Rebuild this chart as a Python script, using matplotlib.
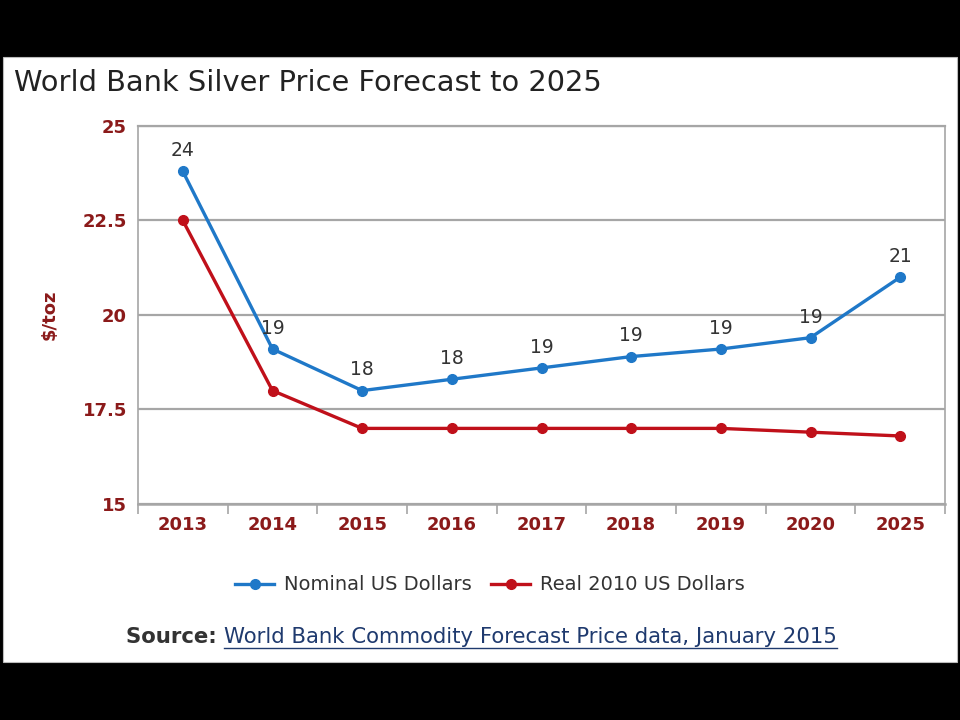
import matplotlib
matplotlib.use("Agg")
import matplotlib.pyplot as plt
from matplotlib.patches import Rectangle
from matplotlib.lines import Line2D
from matplotlib.ticker import FixedLocator

years = ["2013", "2014", "2015", "2016", "2017", "2018", "2019", "2020", "2025"]
nominal = [23.8, 19.1, 18.0, 18.3, 18.6, 18.9, 19.1, 19.4, 21.0]
real = [22.5, 18.0, 17.0, 17.0, 17.0, 17.0, 17.0, 16.9, 16.8]
nominal_labels = ["24", "19", "18", "18", "19", "19", "19", "19", "21"]
yticks = [15, 17.5, 20, 22.5, 25]
ytick_labels = ["15", "17.5", "20", "22.5", "25"]

blue = "#1f78c8"
red = "#c0101a"
dark_red = "#8b1a1a"
grid_grey = "#a6a6a6"

fig = plt.figure(figsize=(9.6, 7.2), dpi=100, facecolor="black")
fig.patches.append(Rectangle((3 / 960, 58 / 720), 954 / 960, 605 / 720,
                             transform=fig.transFigure, facecolor="white",
                             edgecolor="#bbbbbb", lw=0.8, zorder=-5))

ax = fig.add_axes([138 / 960, 216 / 720, 807 / 960, 378 / 720])
ax.set_zorder(2)
ax.set_facecolor("white")
x = list(range(len(years)))

ax.plot(x, real, color=red, lw=2.4, marker="o", ms=7, label="Real 2010 US Dollars", zorder=3)
ax.plot(x, nominal, color=blue, lw=2.4, marker="o", ms=7, label="Nominal US Dollars", zorder=4)

for xi, v, lab in zip(x, nominal, nominal_labels):
    ax.annotate(lab, (xi, v), xytext=(0, 8), textcoords="offset points",
                ha="center", va="bottom", fontsize=13.5, color="#333333", zorder=5)

ax.set_xlim(-0.5, len(years) - 0.5)
ax.set_ylim(15, 25)
ax.set_yticks(yticks)
ax.set_yticklabels(ytick_labels)
ax.set_xticks(x)
ax.set_xticklabels(years)
ax.xaxis.set_minor_locator(FixedLocator([i - 0.5 for i in range(len(years) + 1)]))
ax.tick_params(axis="x", which="major", length=0, pad=9)
ax.tick_params(axis="x", which="minor", length=7, color=grid_grey, width=1.2)
ax.tick_params(axis="y", length=0, pad=8)
for lab in ax.get_xticklabels() + ax.get_yticklabels():
    lab.set_color(dark_red)
    lab.set_fontweight("bold")
    lab.set_fontsize(13)

ax.yaxis.grid(True, color=grid_grey, lw=1.6)
ax.set_axisbelow(True)
for side in ["left", "right", "top", "bottom"]:
    ax.spines[side].set_color(grid_grey)
    ax.spines[side].set_linewidth(1.2)
ax.spines["bottom"].set_linewidth(1.8)
ax.spines["top"].set_linewidth(1.6)

fig.text(50 / 960, (720 - 315) / 720, "$/toz", rotation=90,
         ha="center", va="center", fontsize=13, fontweight="bold", color=dark_red)

fig.text(14 / 960, (720 - 83) / 720, "World Bank Silver Price Forecast to 2025",
         ha="left", va="center", fontsize=20.8, color="#222222")

handles, labels = ax.get_legend_handles_labels()
fig.legend(handles[::-1], labels[::-1], loc="center", bbox_to_anchor=(490 / 960, (720 - 585) / 720),
           ncol=2, frameon=False, fontsize=14, labelcolor="#333333",
           handlelength=2.0, columnspacing=1.0, handletextpad=0.5)

src = fig.text(126 / 960, (720 - 637) / 720, "Source: ", ha="left", va="center",
               fontsize=15.3, fontweight="bold", color="#333333")
fig.canvas.draw()
renderer = fig.canvas.get_renderer()
bb = src.get_window_extent(renderer)
link = fig.text(bb.x1 / 960, (720 - 637) / 720,
                "World Bank Commodity Forecast Price data, January 2015",
                ha="left", va="center", fontsize=15.3, color="#1f3a6e")
lb = link.get_window_extent(renderer)
uy = (lb.y0 - 1) / 720
fig.lines.append(Line2D([lb.x0 / 960, lb.x1 / 960], [uy, uy], transform=fig.transFigure,
                        color="#1f3a6e", lw=1.0))

fig.savefig("out.png", dpi=100, facecolor="black")
